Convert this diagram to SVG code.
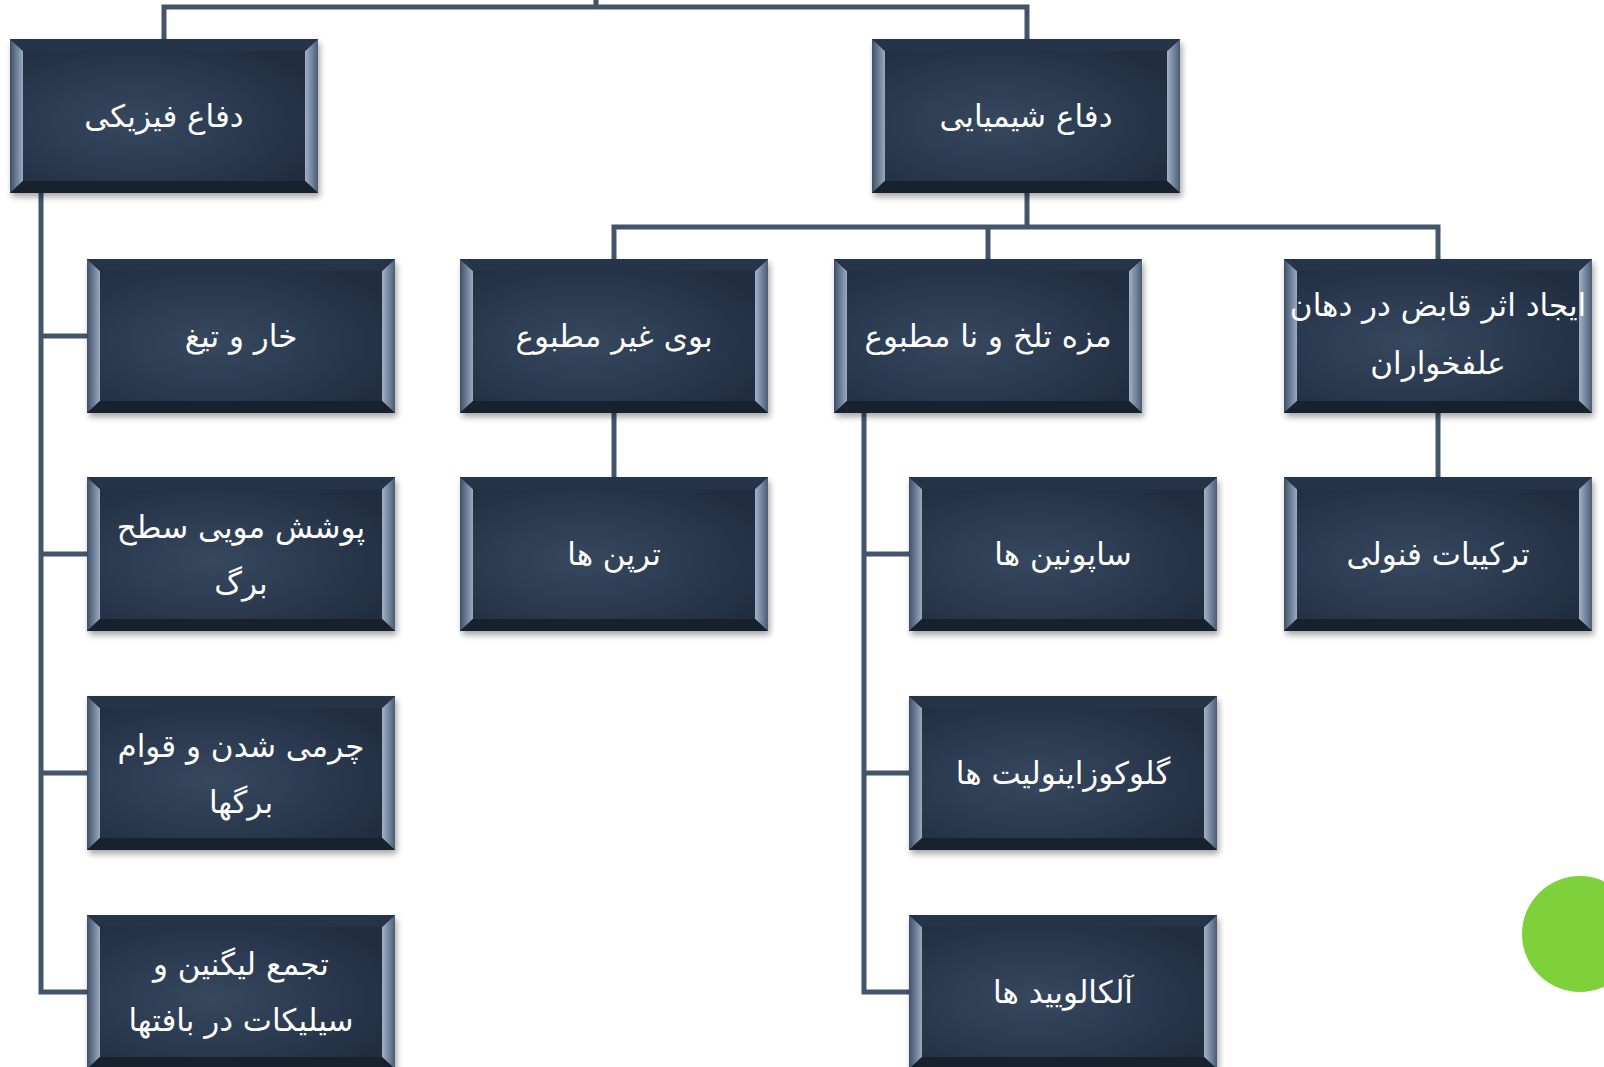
<svg xmlns="http://www.w3.org/2000/svg" xmlns:xlink="http://www.w3.org/1999/xlink" width="1604" height="1067" viewBox="0 0 1604 1067">
<style>
.c{fill:none;stroke:#44546a;stroke-width:5;stroke-linejoin:miter}
.t{font-family:"DejaVu Sans",sans-serif;font-size:31px;fill:#ffffff;text-anchor:middle;direction:rtl}
</style>
<defs>
<radialGradient id="face" cx="0.4" cy="0.55" r="0.7">
<stop offset="0" stop-color="#36485f"/>
<stop offset="1" stop-color="#212e42"/>
</radialGradient>
<linearGradient id="bevL" x1="0" y1="0" x2="1" y2="0">
<stop offset="0" stop-color="#3e5069"/>
<stop offset="1" stop-color="#9aabc0"/>
</linearGradient>
<linearGradient id="bevR" x1="0" y1="0" x2="1" y2="0">
<stop offset="0" stop-color="#a2b2c6"/>
<stop offset="1" stop-color="#4a5c76"/>
</linearGradient>
<filter id="sh" x="-10%" y="-10%" width="120%" height="130%">
<feGaussianBlur stdDeviation="3"/>
</filter>
<symbol id="box" viewBox="0 0 316 164" overflow="visible">
<rect x="2" y="4" width="308" height="154" fill="#000" opacity="0.35" filter="url(#sh)"/>
<rect x="0" y="0" width="308" height="154" fill="#1f2b3e"/>
<rect x="13" y="12" width="282" height="130" fill="url(#face)"/>
<polygon points="0,0 13,12 13,142 0,154" fill="url(#bevL)"/>
<polygon points="308,0 295,12 295,142 308,154" fill="url(#bevR)"/>
<polygon points="0,0 308,0 295,12 13,12" fill="#26344a"/>
<polygon points="0,154 13,142 295,142 308,154" fill="#18222f"/>
</symbol>
</defs>
<rect width="1604" height="1067" fill="#ffffff"/>
<g id="connectors">
<path class="c" d="M164,39 V7 H1027 V39"/>
<path class="c" d="M596,7 V0"/>
<path class="c" d="M1027,193 V227"/>
<path class="c" d="M614,259 V227 H1438 V259"/>
<path class="c" d="M988,227 V259"/>
<path class="c" d="M41,193 V992 H87"/>
<path class="c" d="M41,336 H87 M41,554 H87 M41,773 H87"/>
<path class="c" d="M614,413 V477"/>
<path class="c" d="M1438,413 V477"/>
<path class="c" d="M864,413 V992 H909"/>
<path class="c" d="M864,554 H909 M864,773 H909"/>
</g>
<g id="n-physical"><use xlink:href="#box" x="10" y="39" width="316" height="164"/><text class="t" x="164" y="127">دفاع فیزیکی</text></g>
<g id="n-chemical"><use xlink:href="#box" x="872" y="39" width="316" height="164"/><text class="t" x="1026" y="127">دفاع شیمیایی</text></g>
<g id="n-thorn"><use xlink:href="#box" x="87" y="259" width="316" height="164"/><text class="t" x="241" y="347">خار و تیغ</text></g>
<g id="n-hair"><use xlink:href="#box" x="87" y="477" width="316" height="164"/><text class="t" x="241" y="538">پوشش مویی سطح</text><text class="t" x="241" y="594">برگ</text></g>
<g id="n-leather"><use xlink:href="#box" x="87" y="696" width="316" height="164"/><text class="t" x="241" y="757">چرمی شدن و قوام</text><text class="t" x="241" y="813">برگها</text></g>
<g id="n-lignin"><use xlink:href="#box" x="87" y="915" width="316" height="164"/><text class="t" x="241" y="975">تجمع لیگنین و</text><text class="t" x="241" y="1031">سیلیکات در بافتها</text></g>
<g id="n-odor"><use xlink:href="#box" x="460" y="259" width="316" height="164"/><text class="t" x="614" y="347">بوی غیر مطبوع</text></g>
<g id="n-taste"><use xlink:href="#box" x="834" y="259" width="316" height="164"/><text class="t" x="988" y="347">مزه تلخ و نا مطبوع</text></g>
<g id="n-astringent"><use xlink:href="#box" x="1284" y="259" width="316" height="164"/><text class="t" x="1438" y="316">ایجاد اثر قابض در دهان</text><text class="t" x="1438" y="374">علفخواران</text></g>
<g id="n-terpene"><use xlink:href="#box" x="460" y="477" width="316" height="164"/><text class="t" x="614" y="565">ترپن ها</text></g>
<g id="n-saponin"><use xlink:href="#box" x="909" y="477" width="316" height="164"/><text class="t" x="1063" y="565">ساپونین ها</text></g>
<g id="n-phenol"><use xlink:href="#box" x="1284" y="477" width="316" height="164"/><text class="t" x="1438" y="565">ترکیبات فنولی</text></g>
<g id="n-gluco"><use xlink:href="#box" x="909" y="696" width="316" height="164"/><text class="t" x="1063" y="784">گلوکوزاینولیت ها</text></g>
<g id="n-alkaloid"><use xlink:href="#box" x="909" y="915" width="316" height="164"/><text class="t" x="1063" y="1003">آلکالویید ها</text></g>
<circle cx="1580" cy="934" r="58" fill="#7fd13b"/>
</svg>
